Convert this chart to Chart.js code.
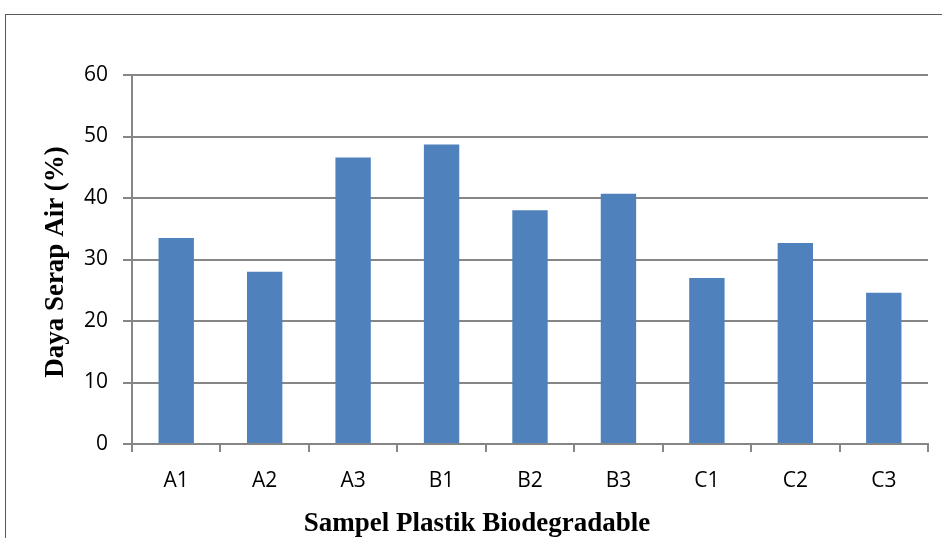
<!DOCTYPE html>
<html>
<head>
<meta charset="utf-8">
<script src="https://cdn.jsdelivr.net/npm/chart.js@4"></script>
<style>
  html, body { margin: 0; padding: 0; background: #fff; overflow: hidden; }
  #wrap { position: relative; width: 942px; height: 538px; }
  #frame { position: absolute; left: 5px; top: 14px; width: 1000px; height: 600px;
           border-left: 1.5px solid #5a5a5a; border-top: 1.5px solid #5a5a5a; }
  canvas { position: absolute; left: 0; top: 0; }
</style>
</head>
<body>
<div id="wrap">
  <div id="frame"></div>
  <canvas id="chart" width="942" height="538"></canvas>
</div>
<script>
// data
const samples = ['A1', 'A2', 'A3', 'B1', 'B2', 'B3', 'C1', 'C2', 'C3'];
const serapAir = [33.5, 28.0, 46.6, 48.7, 38.0, 40.7, 27.0, 32.7, 24.6];
const yTicks = [0, 10, 20, 30, 40, 50, 60];
const xTitle = 'Sampel Plastik Biodegradable';
const yTitle = 'Daya Serap Air (%)';

const gridGray = '#868686';
const labelFont = { family: "'Open Sans', 'Liberation Sans', sans-serif", size: 21 };
const titleFontCss = "bold 27px 'Liberation Serif', 'Times New Roman', serif";

// axis titles placed like the original (x title centred on the frame, not the plot)
const axisTitles = {
  id: 'axisTitles',
  afterDraw(chart) {
    const ctx = chart.ctx;
    ctx.save();
    ctx.fillStyle = '#000';
    ctx.font = titleFontCss;
    ctx.textAlign = 'center';
    ctx.textBaseline = 'alphabetic';
    ctx.fillText(xTitle, 477, 531);
    ctx.translate(63, 262);
    ctx.rotate(-Math.PI / 2);
    ctx.fillText(yTitle, 0, 0);
    ctx.restore();
  }
};

new Chart(document.getElementById('chart'), {
  type: 'bar',
  data: {
    labels: samples,
    datasets: [{
      label: yTitle,
      data: serapAir,
      backgroundColor: '#4f81bd',
      borderWidth: 0,
      categoryPercentage: 1,
      barPercentage: 0.4
    }]
  },
  options: {
    responsive: false,
    animation: false,
    layout: { padding: { left: 0, right: 14, top: 75, bottom: 0 } },
    plugins: { legend: { display: false }, tooltip: { enabled: false } },
    scales: {
      x: {
        offset: true,
        grid: { drawOnChartArea: false, drawTicks: true, tickLength: 8, color: gridGray, lineWidth: 2, offset: true },
        border: { color: gridGray, width: 2 },
        ticks: { color: '#000', font: labelFont, padding: 16 },
        afterFit: s => { s.height = 94; }
      },
      y: {
        min: 0,
        max: 60,
        afterBuildTicks: s => { s.ticks = yTicks.map(v => ({ value: v })); },
        grid: { color: gridGray, lineWidth: 2, tickLength: 9 },
        border: { color: gridGray, width: 2 },
        ticks: { color: '#000', font: labelFont, padding: 15 },
        afterFit: s => { s.width = 132; }
      }
    }
  },
  plugins: [axisTitles]
});
</script>
</body>
</html>
